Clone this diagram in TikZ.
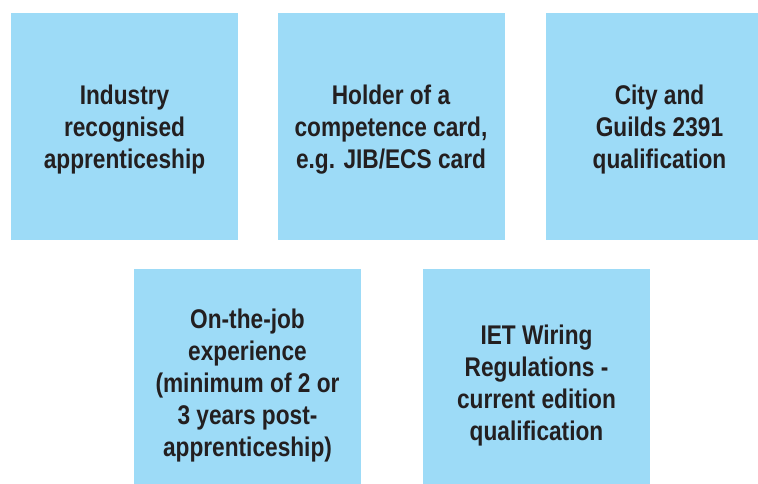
\documentclass[tikz,border=0pt]{standalone}
\usepackage{fontspec}
\setmainfont{Liberation Sans}[FakeStretch=0.84]
\definecolor{boxblue}{HTML}{9DDBF7}
\definecolor{txt}{HTML}{231F20}
\begin{document}
\begin{tikzpicture}[x=1pt,y=-1pt,
  cell/.style={fill=boxblue,draw=none,inner sep=0pt,minimum width=227pt},
  lbl/.style={inner sep=0pt,align=center,text=txt,font=\fontsize{27}{32}\selectfont\bfseries}]
\useasboundingbox (0,0) rectangle (758,483);
\node[cell,minimum height=227pt] (a) at (124.5,126.5) {};
\node[cell,minimum height=227pt] (b) at (391,126.5) {};
\node[cell,minimum height=227pt] (c) at (659.5,126.5) {};
\node[cell,minimum height=228pt] (d) at (247.5,383) {};
\node[cell,minimum height=228pt] (e) at (536.5,383) {};
\node[lbl] (at) at ([yshift=-3.5pt]a.center) {Industry\\recognised\\apprenticeship};
\node[lbl] (bt) at ([yshift=-3.5pt]b.center) {Holder of a\\competence card,\\e.g. JIB/ECS card};
\node[lbl] (ct) at ([yshift=-3.5pt]c.center) {City and\\Guilds 2391\\qualification};
\node[lbl] (dt) at ([yshift=-3pt]d.center) {On-the-job\\experience\\(minimum of 2 or\\3 years post-\\apprenticeship)};
\node[lbl] (et) at ([yshift=-3pt]e.center) {IET Wiring\\Regulations -\\current edition\\qualification};
\end{tikzpicture}
\end{document}
